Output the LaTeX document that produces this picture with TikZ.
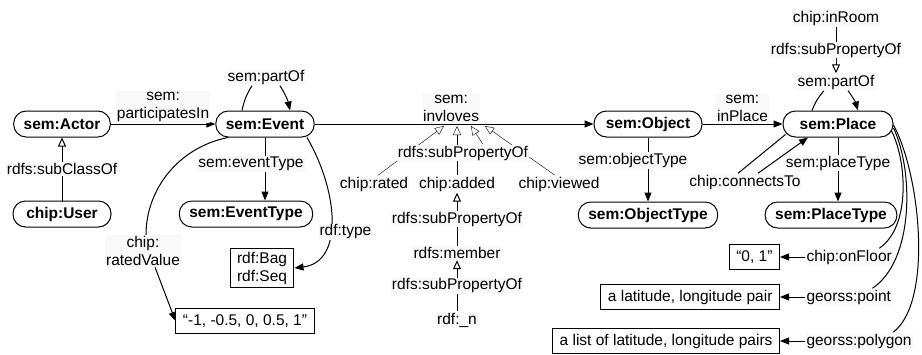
\documentclass[tikz,border=0pt]{standalone}
\usepackage{fontspec}
\setmainfont{Liberation Sans}
\usetikzlibrary{arrows.meta,positioning,calc,backgrounds}

\begin{document}
\begin{tikzpicture}[
  x=1pt, y=-1pt,
  font=\fontsize{15.5}{18}\selectfont,
  line width=1pt,
  cls/.style={draw, rounded corners=12.5pt, font=\fontsize{15.5}{18}\selectfont\bfseries,
              minimum height=26pt, inner xsep=10pt, inner ysep=2pt},
  lit/.style={draw, minimum height=25pt, inner xsep=7pt, inner ysep=3pt, align=center},
  lbl/.style={fill=gray!5, inner sep=1pt, align=center},
  arr/.style={-{Triangle[length=9pt,width=7pt]}},
  sub/.style={-{Triangle[open,length=9pt,width=8pt]}}
]
\useasboundingbox (0,0) rectangle (922,354);

% classes
\node[cls] (actor) at (62,124) {sem:Actor};
\node[cls] (event) at (265,124) {sem:Event};
\node[cls, minimum width=108pt] (object) at (648,124) {sem:Object};
\node[cls, minimum width=110pt] (place) at (838,124) {sem:Place};
\node[cls, minimum width=98pt] (user) at (62,214) {chip:User};
\node[cls] (eventtype) at (246,214) {sem:EventType};
\node[cls] (objecttype) at (648,215) {sem:ObjectType};
\node[cls] (placetype) at (831,215) {sem:PlaceType};

% literals
\node[lit] (bagseq) at (262,268) {rdf:Bag\\rdf:Seq};
\node[lit] (values) at (245,321) {“-1, -0.5, 0, 0.5, 1”};
\node[lit, anchor=east] (floorval) at (780,257) {“0, 1”};
\node[lit, anchor=east] (pointval) at (780,297) {a latitude, longitude pair};
\node[lit, anchor=east] (polyval) at (780,341) {a list of latitude, longitude pairs};

% property labels
\node[lbl] (eventpart) at (266,77) {sem:partOf};
\node[lbl] (placepart) at (836,82) {sem:partOf};
\node[lbl] (inroom) at (836,18) {chip:inRoom};
\node[lbl] (connects) at (745,182) {chip:connectsTo};
\node[lbl] (ratedval) at (143,251) {chip:\\ratedValue};
\node[lbl] (subprop) at (463,153) {rdfs:subPropertyOf};
\node[lbl] (rated) at (374,184) {chip:rated};
\node[lbl] (added) at (457,184) {chip:added};
\node[lbl] (viewed) at (559,184) {chip:viewed};
\node[lbl] (member) at (457,253) {rdfs:member};
\node[lbl] (rdfn) at (457,320) {rdf:\_n};
\node[lbl, anchor=west] (onfloor) at (805,257) {chip:onFloor};
\node[lbl, anchor=west] (point) at (805,297) {georss:point};
\node[lbl, anchor=west] (polygon) at (805,341) {georss:polygon};

\coordinate (inv1) at (444,126);
\coordinate (inv2) at (457,126);
\coordinate (inv3) at (471,126);
\coordinate (inv4) at (485,126);

% main relations
\draw[arr] (actor) -- node[lbl, above=1pt]{sem:\\participatesIn} (event);
\draw[arr] (event) -- node[lbl, above=1pt, xshift=-3pt]{sem:\\invloves} (object);
\draw[arr] (object) -- node[lbl, above=1pt]{sem:\\inPlace} (place);
\draw[sub] (user) -- node[lbl]{rdfs:subClassOf} (actor);
\draw[arr] (event.south) -- node[lbl, pos=0.42, xshift=-14pt]{sem:eventType} (event.south |- eventtype.north);
\draw[arr] (object) -- node[lbl, pos=0.36, xshift=-15pt]{sem:objectType} (objecttype);
\draw[arr] (place.south) -- node[lbl, pos=0.4]{sem:placeType} (place.south |- placetype.north);

% self loops
\draw ([xshift=-23pt]event.north) to[bend left=10] ([xshift=-14pt]eventpart.south);
\draw[arr] ([xshift=14pt]eventpart.south) to[bend left=10] ([xshift=25pt]event.north);
\draw ([xshift=-26pt]place.north) to[bend left=10] ([xshift=-12pt]placepart.south);
\draw[arr] ([xshift=12pt]placepart.south) to[bend left=10] ([xshift=20pt]place.north);
\draw ([xshift=-7pt]connects.north) -- ([shift={(3pt,3pt)}]place.south west);
\draw[arr] ([xshift=13pt]connects.north) -- ([xshift=-30pt]place.south);
\draw[sub] (inroom) -- node[lbl]{rdfs:subPropertyOf} (placepart);

% literal values
\draw ([xshift=-37pt]event.south) .. controls +(-50,10) and +(0,-45) .. ([xshift=3pt]ratedval.north);
\draw[arr] ([xshift=12pt]ratedval.south) -- (values.west);
\draw[arr] ([xshift=42pt]event.south) .. controls +(31,53) and +(50,-6) .. (bagseq.east)
  node[lbl, pos=0.6, xshift=16pt, yshift=3pt]{rdf:type};
\draw ([shift={(-2pt,-7pt)}]place.east) .. controls +(15,29) and +(32,-22) .. ([xshift=-14pt]onfloor.north east);
\draw ([yshift=-4pt]place.east) .. controls +(20,42) and +(42,-28) .. ([xshift=-20pt]point.north east);
\draw ([yshift=-1pt]place.east) .. controls +(27,50) and +(40,-30) .. ([xshift=-20pt]polygon.north east);
\draw[arr] (onfloor) -- (floorval);
\draw[arr] (point) -- (pointval);
\draw[arr] (polygon) -- (polyval);

% sub properties
\begin{scope}[on background layer]
\draw[sub] ([xshift=4pt]rated.north) -- (inv1);
\draw[sub] (added) -- (inv2);
\draw[sub] ([xshift=20pt]subprop.north) -- (inv3);
\draw[sub] ([xshift=-4pt]viewed.north) -- (inv4);
\end{scope}
\draw[sub] (member) -- node[lbl]{rdfs:subPropertyOf} (added);
\draw[sub] (rdfn) -- node[lbl]{rdfs:subPropertyOf} (member);
\end{tikzpicture}
\end{document}
